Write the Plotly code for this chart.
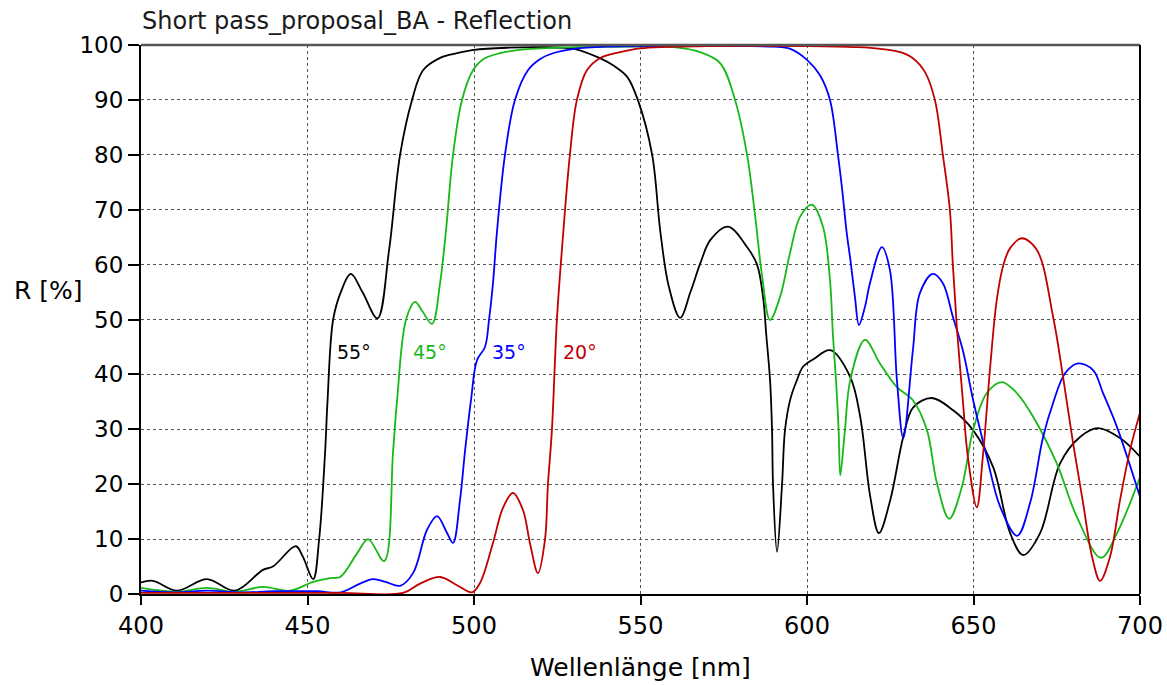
import plotly.graph_objects as go

# ---- data ----
wl_55 = [400, 403.6, 410.8, 419.8, 428.2, 436.6, 439.6, 446.5, 448.6, 451.7, 453.5, 455.3, 456, 457.7, 460, 463,
         466.5, 471, 474.5, 477.8, 481.4, 484.7, 490, 494.9, 500, 510, 520, 530, 537.8, 542, 546, 549.2, 553.5,
         555.9, 558.5, 561.9, 565, 568, 571, 576.3, 582, 585, 586.8, 587.8, 588.9, 589.5, 589.8, 591, 592.5, 593.4,
         595, 597, 598.8, 602, 607, 613, 616, 619, 621.6, 625, 628.9, 631.9, 637.5, 643.8, 649.8, 655.9, 661,
         664.9, 670, 676, 682, 687.4, 694, 700]
r_55 = [2.1, 2.4, 0.6, 2.7, 0.6, 4.4, 5, 8.7, 6.8, 2.7, 10, 26, 35, 50, 55, 58.3,
        55, 50.2, 62.7, 80, 90, 95.4, 97.7, 98.5, 99.1, 99.5, 99.6, 99.3, 97.6, 96.2, 94.2, 90, 80,
        66.3, 56, 50.3, 55, 60.3, 64.5, 66.9, 63.2, 60, 54.1, 47, 39, 29.9, 19.9, 7.7, 19.9, 29.9,
        35.5, 39, 41.4, 42.8, 44.4, 39.5, 32.2, 17.7, 11.1, 17.1, 28.6, 34, 35.7, 33.5, 29.9, 23.1, 11.1,
        7.1, 11.1, 23.8, 28.6, 30.2, 28.4, 25]

wl_45 = [400, 410.8, 419.8, 428.2, 436.6, 444.7, 451.7, 456.8, 459.8, 464.9, 468.2, 473, 475.7, 476.9, 479.6,
         482.3, 484.5, 487.4, 489.8, 491.6, 493.7, 496.4, 499.7, 503, 507.8, 515, 530, 550, 560, 567.9, 573.9,
         578.4, 582, 584.4, 586.5, 588.9, 591.9, 594.9, 597.9, 601.5, 604.8, 606.9, 607.8, 608.7, 609.5, 610,
         611.4, 613, 617.4, 621.9, 627, 631.8, 636, 639, 642.7, 646.5, 649.9, 654, 658.5, 663, 667.9, 675, 681,
         688.3, 693.1, 700]
r_45 = [1.1, 0.4, 1.1, 0.4, 1.3, 0.6, 2.2, 2.9, 3.1, 7.4, 10, 6, 26, 35.3, 50,
        53.2, 51.5, 49.2, 56.6, 66.3, 80, 90, 95.4, 97.5, 98.5, 99.2, 99.6, 99.7, 99.6, 98.7, 96.7,
        90, 80, 69, 58, 49.9, 54.1, 62.1, 68.7, 70.9, 66.9, 57.2, 47, 39, 29.9, 21.6,
        29.9, 39, 46.3, 42, 37.7, 35.3, 29.9, 20.2, 13.7, 19.5, 29.9, 36.6, 38.6, 36.6, 32.3, 23.8, 14.1,
        6.6, 11.1, 21.3]

wl_35 = [400, 410, 420, 430, 440, 452.8, 460, 465.8, 469.7, 473.5, 477.8, 481.7, 485.9, 488.9, 491.9, 493.7,
         495.8, 497.3, 499.1, 500.9, 503.3, 504.5, 505.7, 506.9, 509.3, 512.3, 516.2, 520, 523.7, 530, 540, 560,
         580, 590, 595, 600, 603.9, 606.9, 609.3, 610.5, 612, 613, 614.4, 615.6, 617.4, 618.9, 622.5, 624.9,
         627, 628.9, 631.8, 633.9, 637.8, 640.8, 643.8, 646.8, 649.9, 654, 658, 663.1, 667, 670.9, 673.9, 677.5,
         681.4, 685.9, 688.9, 693.1, 700]
r_35 = [0.6, 0.3, 0.6, 0.3, 0.5, 0.5, 0.3, 1.9, 2.7, 2.2, 1.5, 3.8, 11.7, 14.2, 11.1, 9.3,
        17.1, 26, 35.3, 42.6, 45, 49.9, 56.6, 66, 80, 90, 95.4, 97.5, 98.5, 99.3, 99.7, 99.8,
        99.8, 99.7, 99.3, 97.3, 94.5, 90, 80, 74, 65.4, 61, 54.1, 49, 52.3, 56.6, 63.2, 59,
        39, 28.4, 44.4, 54.8, 58.3, 56.6, 50.5, 44.4, 35.3, 25, 15.9, 10.6, 16.6, 28.6, 34.8, 40.2,
        42, 40.8, 36.6, 30.4, 17.7]

wl_20 = [400, 420, 440, 460, 478.7, 483.8, 489.8, 494.9, 499.4, 501.8, 505.7, 508.7, 511.7, 514.7, 516.8, 519.2,
         521.3, 522.2, 523.4, 524.9, 526.4, 528.8, 530.9, 533.9, 537.8, 543.8, 550, 570, 600, 615, 622, 628,
         631.8, 635.4, 638.4, 640.8, 642.9, 643.8, 645, 646.8, 648.3, 651, 652.8, 655, 657, 659, 661, 664.5,
         669, 673.9, 676.9, 679.9, 682.9, 685.6, 688, 691, 694, 697, 700]
r_20 = [0.2, 0.2, 0.2, 0.2, 0.2, 1.9, 3.1, 1.6, 0.3, 2, 9.3, 15.7, 18.4, 15.3, 9.3, 3.8,
        9.8, 19.9, 29.9, 50, 62.7, 80, 90, 95.4, 97.6, 98.7, 99.4, 99.8, 99.8, 99.6, 99.3, 98.7,
        97.6, 95.1, 90, 80, 70, 60, 48.6, 35.3, 25, 15.8, 25, 41.3, 53.6, 60, 63, 64.8,
        62.7, 50.5, 39.5, 27.5, 16.6, 6.8, 2.4, 6.8, 17.1, 26.2, 33]

series = [
    ("55°", wl_55, r_55, "#000000", 464.0),
    ("45°", wl_45, r_45, "#18b818", 486.8),
    ("35°", wl_35, r_35, "#0000ff", 510.5),
    ("20°", wl_20, r_20, "#c00000", 531.8),
]
label_y = 44

title_text = "Short pass_proposal_BA - Reflection"
x_title = "Wellenlänge [nm]"
y_title = "R [%]"
x_ticks = [400, 450, 500, 550, 600, 650, 700]
y_ticks = [0, 10, 20, 30, 40, 50, 60, 70, 80, 90, 100]

FONT = "DejaVu Sans"

L, R, T, B = 141, 27, 45, 91
W, H = 1167, 685
pw, ph = W - L - R, H - T - B

fig = go.Figure()
for name, xs, ys, col, lx in series:
    fig.add_trace(go.Scatter(x=xs, y=ys, mode="lines", name=name,
                             line=dict(color=col, width=1.8, shape="spline", smoothing=1.0),
                             showlegend=False, hoverinfo="skip"))

annotations = []
for name, xs, ys, col, lx in series:
    annotations.append(dict(x=lx, y=label_y, xref="x", yref="y", text=name, showarrow=False,
                            font=dict(family=FONT, size=19, color=col), xanchor="center", yanchor="middle"))

annotations.append(dict(x=(48 - L) / pw, y=(H - B - 290) / ph, xref="paper", yref="paper", text=y_title,
                        showarrow=False, font=dict(family=FONT, size=25, color="black"),
                        xanchor="center", yanchor="middle"))
annotations.append(dict(x=0.5, y=(H - B - 667) / ph, xref="paper", yref="paper", text=x_title,
                        showarrow=False, font=dict(family=FONT, size=25, color="black"),
                        xanchor="center", yanchor="middle"))

fig.update_layout(
    width=W, height=H,
    margin=dict(l=L, r=R, t=T, b=B, pad=0, autoexpand=False),
    paper_bgcolor="white", plot_bgcolor="white",
    title=dict(text=title_text, x=142 / W, xanchor="left", xref="container", yref="container",
               y=1 - 21 / H, yanchor="middle",
               font=dict(family=FONT, size=24, color="#1a1a1a")),
    annotations=annotations,
    xaxis=dict(range=[400, 700], tickvals=x_ticks, showgrid=True, gridcolor="#555555", griddash="dot",
               gridwidth=1, showline=True, linecolor="black", linewidth=2, ticks="outside", ticklen=9,
               tickwidth=2, tickcolor="black", zeroline=False, automargin=False,
               tickfont=dict(family=FONT, size=24, color="black")),
    yaxis=dict(range=[0, 100], tickvals=y_ticks, showgrid=True, gridcolor="#555555", griddash="dot",
               gridwidth=1, showline=True, linecolor="black", linewidth=2, ticks="outside", ticklen=11,
               tickwidth=2, tickcolor="black", zeroline=False, automargin=False,
               tickfont=dict(family=FONT, size=23, color="black")),
    shapes=[
        dict(type="line", xref="paper", yref="paper", x0=0, x1=1, y0=1, y1=1,
             line=dict(color="#555555", width=2.5)),
        dict(type="line", xref="paper", yref="paper", x0=1, x1=1, y0=0, y1=1,
             line=dict(color="black", width=2)),
    ],
)

fig.write_html("out.html")
